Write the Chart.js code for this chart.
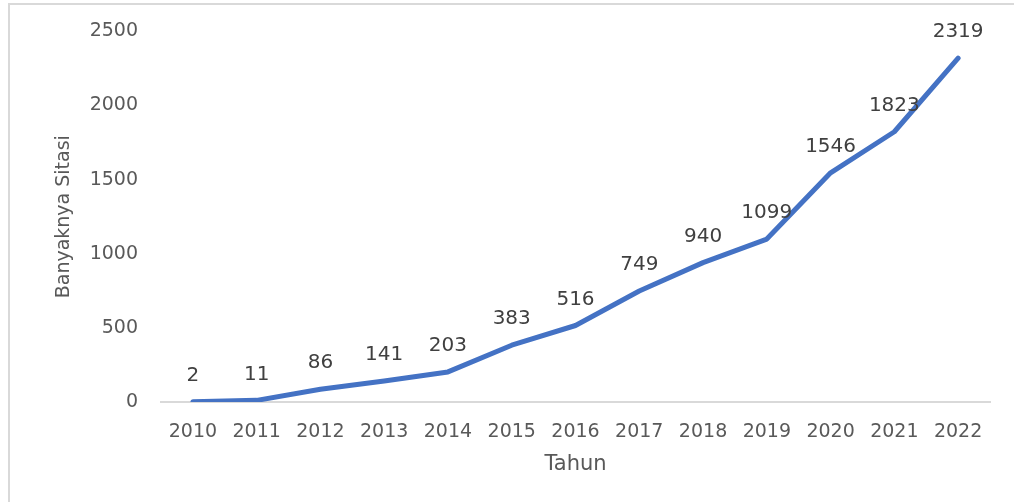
<!DOCTYPE html>
<html>
<head>
<meta charset="utf-8">
<script src="https://cdn.jsdelivr.net/npm/chart.js@4.4.0/dist/chart.umd.min.js"></script>
<style>
    html, body { margin: 0; padding: 0; background: #fff; overflow: hidden; }
    #frame {
        position: absolute; left: 8px; top: 3px; width: 1006px; height: 499px;
        border-top: 2px solid #d9d9d9; border-left: 2px solid #d9d9d9;
    }
    #chart { display: block; }
</style>
</head>
<body>
<div id="frame"><canvas id="chart" width="1004" height="497"></canvas></div>
<script>
const years = ['2010', '2011', '2012', '2013', '2014', '2015', '2016', '2017', '2018', '2019', '2020', '2021', '2022'];
const citations = [2, 11, 86, 141, 203, 383, 516, 749, 940, 1099, 1546, 1823, 2319];
const yTicks = [0, 500, 1000, 1500, 2000, 2500];

const fontFamily = '"DejaVu Sans", sans-serif';

// draws the value above each point, like the data labels in the original
const valueLabels = {
    id: 'valueLabels',
    afterDatasetsDraw(chart) {
        const ctx = chart.ctx;
        const meta = chart.getDatasetMeta(0);
        ctx.save();
        ctx.font = '20px ' + fontFamily;
        ctx.fillStyle = '#404040';
        ctx.textAlign = 'center';
        ctx.textBaseline = 'middle';
        meta.data.forEach((pt, i) => {
            ctx.fillText(String(citations[i]), pt.x, pt.y - 26);
        });
        ctx.restore();
    }
};

new Chart(document.getElementById('chart').getContext('2d'), {
    type: 'line',
    data: {
        labels: years,
        datasets: [{
            data: citations,
            borderColor: '#4472C4',
            borderWidth: 5,
            borderCapStyle: 'round',
            borderJoinStyle: 'round',
            pointRadius: 0,
            tension: 0,
            fill: false
        }]
    },
    options: {
        responsive: false,
        animation: false,
        layout: { padding: { top: 10, right: 24, bottom: 0, left: 0 } },
        plugins: {
            legend: { display: false },
            tooltip: { enabled: false }
        },
        scales: {
            x: {
                offset: true,
                grid: { display: false },
                border: { display: true, color: '#d9d9d9', width: 2 },
                ticks: { color: '#595959', font: { family: fontFamily, size: 19 }, padding: 11, maxRotation: 0 },
                title: { display: true, text: 'Tahun', color: '#595959', font: { family: fontFamily, size: 21 }, padding: { top: 0, bottom: 25 } },
                afterFit(scale) { scale.height = 100; }
            },
            y: {
                min: 0,
                max: 2500,
                afterBuildTicks(scale) { scale.ticks = yTicks.map(v => ({ value: v })); },
                grid: { display: false },
                border: { display: false },
                ticks: { color: '#595959', font: { family: fontFamily, size: 19 }, padding: 15, callback: v => String(v) },
                title: { display: true, text: 'Banyaknya Sitasi', color: '#595959', font: { family: fontFamily, size: 19 }, padding: { top: 43, bottom: 0 } },
                afterFit(scale) { scale.width = 151; }
            }
        }
    },
    plugins: [valueLabels]
});
</script>
</body>
</html>
